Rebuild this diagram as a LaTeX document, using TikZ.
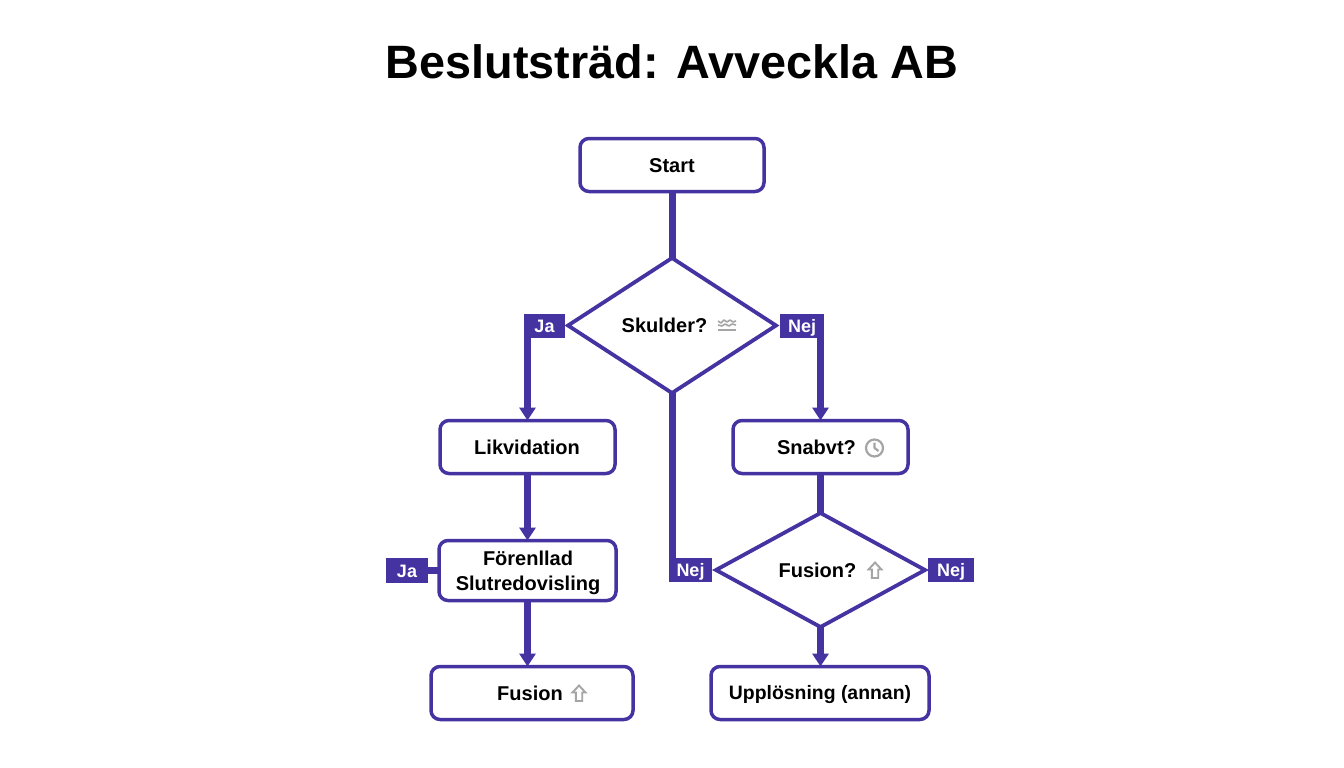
\documentclass[tikz,border=0pt]{standalone}
\usepackage{fontspec}
\setmainfont{Liberation Sans}
\usetikzlibrary{arrows.meta,shapes.geometric}
\definecolor{lila}{RGB}{68,51,160}
\definecolor{ikon}{RGB}{165,165,165}
\tikzset{
	box/.style={draw=lila, line width=3.5pt, rounded corners=9pt, fill=white, inner sep=0pt, outer sep=0pt},
	beslut/.style={draw=lila, line width=3.8pt, diamond, fill=white, inner sep=0pt, outer sep=0pt, line join=miter},
	txt/.style={font=\fontsize{20}{25}\selectfont\bfseries, text=black, inner sep=0pt, align=center},
	tag/.style={fill=lila, text=white, font=\fontsize{18}{20}\selectfont\bfseries, inner sep=0pt, minimum height=24.5pt, text height=13pt, text depth=0pt},
	flow/.style={draw=lila, line width=7pt},
	flowpil/.style={flow, -{Triangle[width=16pt, length=13pt]}},
	pil/.pic={\draw[ikon, line width=1.9pt, line join=miter] (0,-8)--(6.5,-1)--(3.2,-1)--(3.2,7.5)--(-3.2,7.5)--(-3.2,-1)--(-6.5,-1)--cycle;},
	klocka/.pic={\draw[ikon, line width=2.2pt] (0,0) circle (8.5) (0,-5.5)--(0,0)--(4,3);},
	vagor/.pic={\draw[ikon, line width=1.6pt] (-9,-4)--(-6,-2)--(-3,-5)--(0,-3)--(3,-5)--(6,-3)--(9,-4)
		(-9,0)--(-5,1)--(-2,-1)--(2,1)--(5,-1)--(9,0);
		\draw[ikon, line width=2.6pt] (-9,5)--(9,5);},
}
\begin{document}
\begin{tikzpicture}[x=1pt, y=-1pt, line join=round]
	\useasboundingbox (0,0) rectangle (1344,768);
	%% Titel
	\node[font=\fontsize{46.8}{50}\selectfont\bfseries] (titel) at (672,62) {Beslutsträd: Avveckla AB};
	%% Rutor
	\node[box, minimum width=184pt, minimum height=53pt] (start) at (672,165) {};
	\node[box, minimum width=175pt, minimum height=53pt] (likv) at (527.5,447) {};
	\node[box, minimum width=175pt, minimum height=53pt] (snabbt) at (820.5,447) {};
	\node[box, minimum width=177pt, minimum height=60pt] (forenklad) at (527.5,570.5) {};
	\node[box, minimum width=202pt, minimum height=53pt] (fusion) at (532,693) {};
	\node[box, minimum width=218pt, minimum height=53pt] (upplosning) at (820,693) {};
	%% Beslut
	\node[beslut, minimum width=208pt, minimum height=135pt, aspect=1.54] (skulder) at (672,325.5) {};
	\node[beslut, minimum width=209pt, minimum height=114pt, aspect=1.83] (fusionq) at (820.5,570) {};
	%% Etiketter
	\node[tag, minimum width=41pt] (ja1) at (544.5,326) {Ja};
	\node[tag, minimum width=44pt] (nej1) at (802,326) {Nej};
	\node[tag, minimum width=42pt] (ja2) at (407,570.5) {Ja};
	\node[tag, minimum width=43pt] (nej2) at (690.5,570) {Nej};
	\node[tag, minimum width=46pt] (nej3) at (951,570) {Nej};
	%% Linjer
	\draw[flow] (start) -- (skulder.north);
	\draw[flow] (skulder.south) -- (skulder.south |- nej2.north);
	\draw[flowpil] (likv.north |- ja1.south) -- (likv.north);
	\draw[flowpil] (snabbt.north |- nej1.south) -- (snabbt.north);
	\draw[flowpil] (likv.south) -- (forenklad.north);
	\draw[flowpil] (forenklad.south) -- (forenklad.south |- fusion.north);
	\draw[flow] (snabbt) -- (fusionq.north);
	\draw[flowpil] (fusionq.south) -- (fusionq.south |- upplosning.north);
	\draw[flow] (ja2.east) -- (forenklad.west);
	%% Texter
	\node[txt] (tstart) at (672,165.5) {Start};
	\node[txt] (tskulder) at (664.5,325) {Skulder?};
	\node[txt] (tlikv) at (527,447.5) {Likvidation};
	\node[txt] (tsnabbt) at (816.5,447.5) {Snabvt?};
	\node[txt] (tforenklad) at (528,572.5) {Förenllad\\Slutredovisling};
	\node[txt] (tfusionq) at (817.5,570) {Fusion?};
	\node[txt] (tfusion) at (530,693) {Fusion};
	\node[txt, font=\fontsize{19.4}{25}\selectfont\bfseries] (tupplosning) at (820,695) {Upplösning (annan)};
	%% Ikoner
	\pic at (727,325) {vagor};
	\pic at (874.5,448) {klocka};
	\pic at (875,570.5) {pil};
	\pic at (579,693.5) {pil};
\end{tikzpicture}
\end{document}
